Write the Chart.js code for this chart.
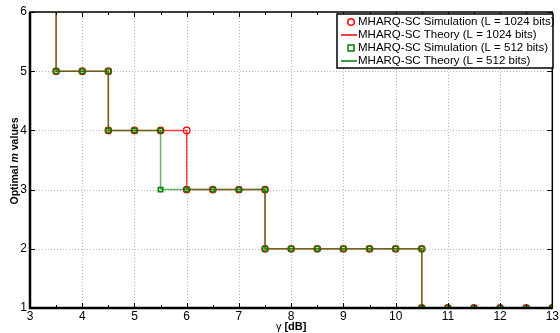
<!DOCTYPE html>
<html>
<head>
<meta charset="utf-8">
<script src="https://cdn.jsdelivr.net/npm/chart.js@4"></script>
<style>
  html, body { margin: 0; padding: 0; background: #fff; }
  #wrap { width: 560px; height: 333px; }
</style>
</head>
<body>
<div id="wrap"><canvas id="optChart" width="560" height="333"></canvas></div>
<script>
// values
const xTicks = [3, 4, 5, 6, 7, 8, 9, 10, 11, 12, 13];
const yTicks = [1, 2, 3, 4, 5, 6];

const simX1024 = [3.5, 4, 4.5, 4.5, 5, 5.5, 6, 6, 6.5, 7, 7.5, 7.5, 8, 8.5, 9, 9.5, 10, 10.5, 10.5, 11, 11.5, 12, 12.5, 13];
const simY1024 = [5, 5, 5, 4, 4, 4, 4, 3, 3, 3, 3, 2, 2, 2, 2, 2, 2, 2, 1, 1, 1, 1, 1, 1];
const theoX1024 = [3.5, 3.5, 4.5, 4.5, 6, 6, 7.5, 7.5, 10.5, 10.5, 13];
const theoY1024 = [6.2, 5, 5, 4, 4, 3, 3, 2, 2, 1, 1];

const simX512 = [3.5, 4, 4.5, 4.5, 5, 5.5, 5.5, 6, 6.5, 7, 7.5, 7.5, 8, 8.5, 9, 9.5, 10, 10.5, 10.5, 11, 11.5, 12, 12.5, 13];
const simY512 = [5, 5, 5, 4, 4, 4, 3, 3, 3, 3, 3, 2, 2, 2, 2, 2, 2, 2, 1, 1, 1, 1, 1, 1];
const theoX512 = [3.5, 3.5, 4.5, 4.5, 5.5, 5.5, 7.5, 7.5, 10.5, 10.5, 13];
const theoY512 = [6.2, 5, 5, 4, 4, 3, 3, 2, 2, 1, 1];

const seriesLabels = [
  'MHARQ-SC Simulation (L = 1024 bits)',
  'MHARQ-SC Theory (L = 1024 bits)',
  'MHARQ-SC Simulation (L = 512 bits)',
  'MHARQ-SC Theory (L = 512 bits)'
];

const RED = '#ff0000';
const GREEN = '#008000';
const FONT = 'Liberation Sans, Arial, Helvetica, sans-serif';

function pts(xs, ys) {
  return xs.map((x, i) => ({ x: x, y: ys[i] }));
}

// dotted grid under the data
const gridPlugin = {
  id: 'dotGrid',
  beforeDatasetsDraw(chart) {
    const ctx = chart.ctx;
    const a = chart.chartArea;
    const xs = chart.scales.x;
    const ys = chart.scales.y;
    ctx.save();
    ctx.strokeStyle = '#b8b8b8';
    ctx.lineWidth = 1;
    ctx.setLineDash([1, 2]);
    ctx.beginPath();
    xTicks.forEach(v => {
      const px = Math.round(xs.getPixelForValue(v)) + 0.5;
      ctx.moveTo(px, a.top); ctx.lineTo(px, a.bottom);
    });
    yTicks.forEach(v => {
      const py = Math.round(ys.getPixelForValue(v)) + 0.5;
      ctx.moveTo(a.left, py); ctx.lineTo(a.right, py);
    });
    ctx.stroke();
    ctx.restore();
  }
};

// frame, inward ticks, axis titles and the boxed legend
const framePlugin = {
  id: 'frame',
  afterDraw(chart) {
    const ctx = chart.ctx;
    const a = chart.chartArea;
    const xs = chart.scales.x;
    const ys = chart.scales.y;
    ctx.save();
    ctx.strokeStyle = '#000';

    // ticks
    ctx.lineWidth = 1;
    ctx.beginPath();
    for (let v = 3; v <= 13; v += 0.5) {
      const px = Math.round(xs.getPixelForValue(v)) + 0.5;
      const len = Number.isInteger(v) ? 5 : 3;
      ctx.moveTo(px, a.bottom); ctx.lineTo(px, a.bottom - len);
      ctx.moveTo(px, a.top); ctx.lineTo(px, a.top + len);
    }
    yTicks.forEach(v => {
      const py = Math.round(ys.getPixelForValue(v)) + 0.5;
      ctx.moveTo(a.left, py); ctx.lineTo(a.left + 5, py);
      ctx.moveTo(a.right, py); ctx.lineTo(a.right - 5, py);
    });
    ctx.stroke();

    // box
    ctx.lineWidth = 1.5;
    ctx.strokeRect(a.left, a.top, a.right - a.left, a.bottom - a.top);
    ctx.lineWidth = 2.5;
    ctx.beginPath();
    ctx.moveTo(a.left, a.top); ctx.lineTo(a.left, a.bottom); ctx.lineTo(a.right, a.bottom);
    ctx.stroke();

    // x title: γ [dB]
    ctx.fillStyle = '#000';
    ctx.textBaseline = 'alphabetic';
    const t1 = 'γ ', t2 = '[dB]';
    ctx.font = '11px ' + FONT;
    const w1 = ctx.measureText(t1).width;
    ctx.font = 'bold 11px ' + FONT;
    const w2 = ctx.measureText(t2).width;
    const tx = (a.left + a.right) / 2 - (w1 + w2) / 2;
    ctx.font = '11px ' + FONT;
    ctx.fillText(t1, tx, 330);
    ctx.font = 'bold 11px ' + FONT;
    ctx.fillText(t2, tx + w1, 330);

    // y title: Optimal m values
    const parts = [['Optimal ', 'bold 10.5px '], ['m', 'bold italic 10.5px '], [' values', 'bold 10.5px ']];
    let total = 0;
    parts.forEach(p => { ctx.font = p[1] + FONT; total += ctx.measureText(p[0]).width; });
    ctx.translate(18, 161);
    ctx.rotate(-Math.PI / 2);
    let off = -total / 2;
    parts.forEach(p => {
      ctx.font = p[1] + FONT;
      ctx.fillText(p[0], off, 0);
      off += ctx.measureText(p[0]).width;
    });
    ctx.setTransform(1, 0, 0, 1, 0, 0);

    // legend
    const lx = 337, ly = 14, lw = 216, lh = 54;
    ctx.fillStyle = '#fff';
    ctx.fillRect(lx, ly, lw, lh);
    ctx.lineWidth = 1.5;
    ctx.strokeRect(lx, ly, lw, lh);
    ctx.font = '11.5px ' + FONT;
    ctx.textBaseline = 'middle';
    chart.data.datasets.forEach((ds, i) => {
      const cy = ly + 8 + i * 13;
      ctx.strokeStyle = ds.legendColor;
      ctx.lineWidth = 1.5;
      ctx.beginPath();
      if (ds.showLine === false) {
        if (ds.pointStyle === 'rect') {
          ctx.rect(lx + 11, cy - 3, 6, 6);
        } else {
          ctx.arc(lx + 14, cy, 3.3, 0, Math.PI * 2);
        }
      } else {
        ctx.moveTo(lx + 4, cy); ctx.lineTo(lx + 20, cy);
      }
      ctx.stroke();
      ctx.fillStyle = '#000';
      ctx.fillText(ds.label, lx + 21, cy);
    });
    ctx.restore();
  }
};

const ctx = document.getElementById('optChart').getContext('2d');
new Chart(ctx, {
  type: 'scatter',
  data: {
    datasets: [
      {
        label: seriesLabels[0],
        data: pts(simX1024, simY1024),
        showLine: false,
        borderColor: RED,
        legendColor: RED,
        backgroundColor: 'rgba(0,0,0,0)',
        pointStyle: 'circle',
        pointRadius: 3.3,
        borderWidth: 1.2,
        order: 4
      },
      {
        label: seriesLabels[1],
        data: pts(theoX1024, theoY1024),
        showLine: true,
        borderColor: 'rgba(255,0,0,0.75)',
        legendColor: RED,
        borderWidth: 1.5,
        pointRadius: 0,
        tension: 0,
        order: 3
      },
      {
        label: seriesLabels[2],
        data: pts(simX512, simY512),
        showLine: false,
        borderColor: GREEN,
        legendColor: GREEN,
        backgroundColor: 'rgba(0,0,0,0)',
        pointStyle: 'rect',
        pointRadius: 3.1,
        borderWidth: 1.5,
        order: 1
      },
      {
        label: seriesLabels[3],
        data: pts(theoX512, theoY512),
        showLine: true,
        borderColor: 'rgba(0,128,0,0.6)',
        legendColor: GREEN,
        borderWidth: 1.5,
        pointRadius: 0,
        tension: 0,
        order: 2
      }
    ]
  },
  options: {
    responsive: false,
    animation: false,
    layout: { padding: { top: 12, right: 6, left: 0, bottom: 0 } },
    plugins: {
      legend: { display: false },
      tooltip: { enabled: false }
    },
    scales: {
      x: {
        type: 'linear',
        min: 3,
        max: 13,
        afterBuildTicks: s => { s.ticks = xTicks.map(v => ({ value: v })); },
        afterFit: s => { s.height = 25; },
        grid: { display: false, drawTicks: false },
        border: { display: false },
        ticks: {
          color: '#000',
          padding: 1,
          maxRotation: 0,
          font: { family: FONT, size: 12 }
        }
      },
      y: {
        type: 'linear',
        min: 1,
        max: 6,
        afterBuildTicks: s => { s.ticks = yTicks.map(v => ({ value: v })); },
        afterFit: s => { s.width = 30; },
        grid: { display: false, drawTicks: false },
        border: { display: false },
        ticks: {
          color: '#000',
          padding: 3,
          font: { family: FONT, size: 12 }
        }
      }
    }
  },
  plugins: [gridPlugin, framePlugin]
});
</script>
</body>
</html>
